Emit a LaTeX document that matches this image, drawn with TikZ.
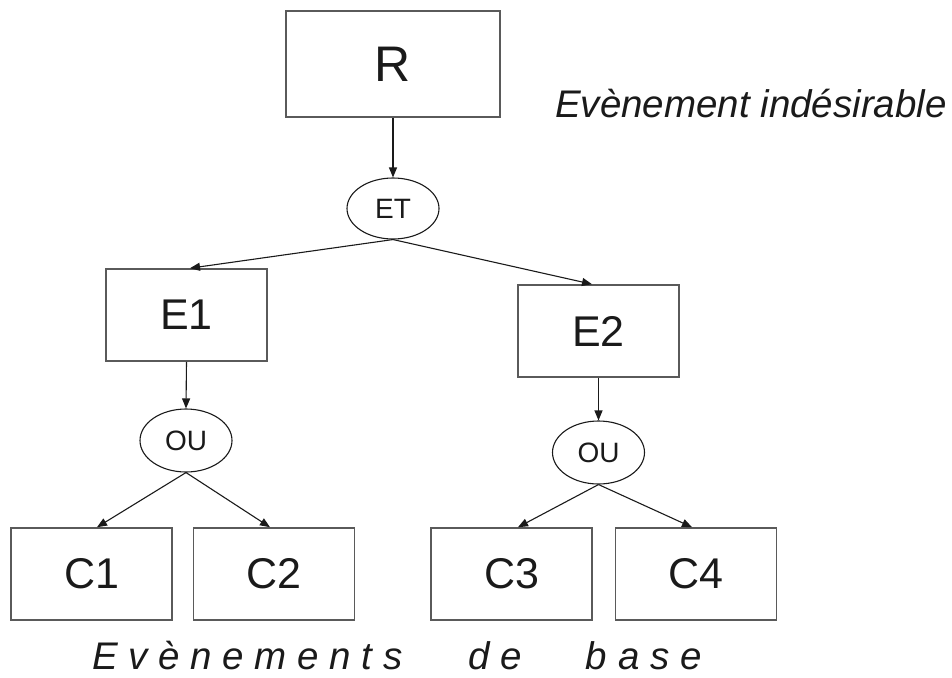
\documentclass[tikz,border=0pt]{standalone}
\usepackage{fontspec}
\setmainfont{Liberation Sans}
\usetikzlibrary{arrows.meta,shapes.geometric}
\definecolor{boxline}{HTML}{5A5A5A}
\definecolor{inkdark}{HTML}{1A1A1A}
\begin{document}
\begin{tikzpicture}[x=1pt,y=-1pt,
  event/.style={draw=boxline,line width=1.6pt,rectangle,inner sep=0pt,
    minimum width=161pt,minimum height=92pt,text=inkdark,
    font=\fontsize{43}{50}\selectfont},
  gate/.style={draw=inkdark,line width=1.1pt,ellipse,inner sep=0pt,
    minimum width=92pt,minimum height=61pt,text=inkdark,
    font=\fontsize{28}{32}\selectfont},
  link/.style={draw=inkdark,line width=1.1pt,
    -{Triangle[length=10pt,width=8pt]}},
  caption/.style={inner sep=0pt,anchor=base west,text=inkdark,
    text depth=0pt,font=\itshape\fontsize{38.5}{44}\selectfont}]
\useasboundingbox (0,0) rectangle (952,677);

% top event
\node[event,minimum width=214pt,minimum height=106pt,
      font=\fontsize{50}{58}\selectfont] (R) at (393,64) {R};
\node[caption] (topcap) at (555,117) {Evènement indésirable};

% AND gate and intermediate events
\node[gate] (ET) at (393,208.5) {ET};
\node[event] (E1) at (186.5,315) {E1};
\node[event] (E2) at (598.5,331) {E2};

% OR gates
\node[gate,minimum height=63pt] (OU1) at (186,440.5) {OU};
\node[gate,minimum height=63pt] (OU2) at (598.5,452.5) {OU};

% basic events
\node[event] (C1) at (91.5,574) {C1};
\node[event] (C2) at (274,574) {C2};
\node[event] (C3) at (511.5,574) {C3};
\node[event] (C4) at (696,574) {C4};

\node[caption] (basecap) at (92,669)
  {E v è n e m e n t s\hspace*{66pt}d e\hspace*{64pt}b a s e};

% connectors
\draw[link] (R.south) -- (ET.north);
\draw[link] (ET.south) -- ([xshift=3.5pt]E1.north);
\draw[link] (ET.south) -- ([xshift=-6.5pt]E2.north);
\draw[link] (E1.south) -- (OU1.north);
\draw[link] (E2.south) -- (OU2.north);
\draw[link] (OU1.south) -- ([xshift=5.5pt]C1.north);
\draw[link] (OU1.south) -- ([xshift=-4pt]C2.north);
\draw[link] (OU2.south) -- ([xshift=6.5pt]C3.north);
\draw[link] (OU2.south) -- ([xshift=-4pt]C4.north);
\end{tikzpicture}
\end{document}
